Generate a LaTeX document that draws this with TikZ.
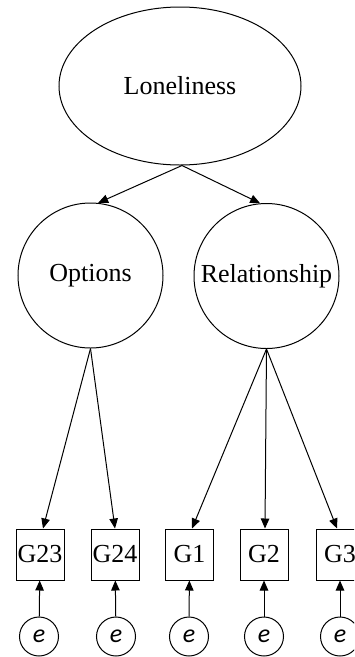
\documentclass[tikz,border=0pt]{standalone}
\usepackage{fontspec}
\setmainfont{Liberation Serif}
\newfontfamily\errfont{Carlito}
\usetikzlibrary{shapes.geometric,arrows.meta,calc}
\begin{document}
\begin{tikzpicture}[x=1pt,y=-1pt,
  every node/.style={font=\fontsize{26}{30}\selectfont, inner sep=0pt, line width=1pt},
  latent/.style={draw, circle, minimum size=145pt},
  obs/.style={draw, rectangle, minimum width=48pt, minimum height=51pt},
  errc/.style={draw, circle, minimum size=39pt, font=\errfont\itshape\fontsize{26}{30}\selectfont},
  arr/.style={line width=1pt, -{Triangle[length=10pt,width=8.5pt]}}
]
\useasboundingbox (0,0) rectangle (354,657);
\clip (0,0) rectangle (354,657);
\node[draw, ellipse, minimum width=242pt, minimum height=158pt] (L) at (180,86) {Loneliness};
\node[latent] (O) at (90.5,275.5) {Options};
\node[latent] (R) at (266.5,276) {Relationship};
\node[obs] (G23) at (40,554.5) {G23};
\node[obs] (G24) at (115,554.5) {G24};
\node[obs] (G1) at (189.5,554.5) {G1};
\node[obs] (G2) at (264,554.5) {G2};
\node[obs] (G3) at (340,554.5) {G3};
\node[errc] (e1) at (39,636.5) {e};
\node[errc] (e2) at (116,636.5) {e};
\node[errc] (e3) at (189,636.5) {e};
\node[errc] (e4) at (264,636.5) {e};
\node[errc] (e5) at (340,636.5) {e};
\coordinate (Lb) at ($(L.south)+(2pt,0)$);
\draw[arr] (Lb) -- (O.84);
\draw[arr] (Lb) -- (R.95);
\draw[arr] (O.south) -- ($(G23.north)+(3pt,0)$);
\draw[arr] (O.south) -- (G24.north);
\draw[arr] (R.south) -- ($(G1.north)+(2.5pt,0)$);
\draw[arr] (R.south) -- ($(G2.north)+(1pt,0)$);
\draw[arr] (R.south) -- ($(G3.north)+(-3pt,0)$);
\draw[arr] (e1) -- (G23);
\draw[arr] (e2) -- (G24);
\draw[arr] (e3) -- (G1);
\draw[arr] (e4) -- (G2);
\draw[arr] (e5) -- (G3);
\end{tikzpicture}
\end{document}
